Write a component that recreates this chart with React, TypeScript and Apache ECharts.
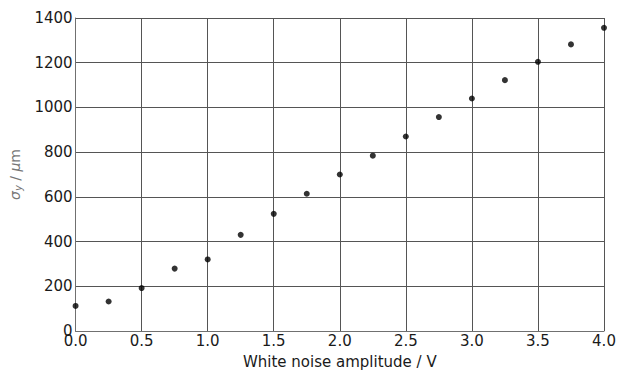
import React, { useEffect, useRef } from "react";
import * as echarts from "echarts";

const amplitudes = [0, 0.25, 0.5, 0.75, 1.0, 1.25, 1.5, 1.75, 2.0, 2.25, 2.5, 2.75, 3.0, 3.25, 3.5, 3.75, 4.0];
const sigmaY = [112, 132, 192, 279, 320, 430, 524, 614, 700, 784, 870, 957, 1040, 1122, 1204, 1282, 1356];

const xTicks = ["0.0", "0.5", "1.0", "1.5", "2.0", "2.5", "3.0", "3.5", "4.0"];
const yTicks = ["0", "200", "400", "600", "800", "1000", "1200", "1400"];

export default function App() {
  const ref = useRef<HTMLDivElement>(null);
  useEffect(() => {
    if (!ref.current) return;
    const chart = echarts.init(ref.current, undefined, { renderer: "svg" });
    const font = "DejaVu Sans";
    chart.setOption({
      animation: false,
      backgroundColor: "#ffffff",
      grid: { left: 73, right: 18, top: 18, bottom: 40 },
      xAxis: {
        type: "value",
        min: 0,
        max: 4,
        interval: 0.5,
        name: "White noise amplitude / V",
        nameLocation: "middle",
        nameGap: 23,
        nameTextStyle: { fontFamily: font, fontSize: 15, color: "#1a1a1a" },
        axisLine: { show: true, lineStyle: { color: "#707070", width: 1 } },
        axisTick: { show: false },
        axisLabel: {
          fontFamily: font,
          fontSize: 15,
          color: "#1a1a1a",
          margin: 2,
          formatter: (v: number) => {
            const i = Math.round(v / 0.5);
            return xTicks[i] ?? v.toFixed(1);
          },
        },
        splitLine: { show: true, lineStyle: { color: "#555", width: 1 } },
      },
      yAxis: {
        type: "value",
        min: 0,
        max: 1400,
        interval: 200,
        name: "{s|σ}{sub|y}{n| / }{s|μ}{n|m}",
        nameLocation: "middle",
        nameGap: 51,
        nameTextStyle: {
          fontFamily: font,
          fontSize: 14,
          color: "#777",
          rich: {
            s: { fontFamily: font, fontSize: 14, fontStyle: "italic", color: "#777" },
            sub: { fontFamily: font, fontSize: 10, fontStyle: "italic", color: "#777", verticalAlign: "bottom", padding: [7, 0, 0, 0] },
            n: { fontFamily: font, fontSize: 14, color: "#777" },
          },
        },
        axisLine: { show: true, lineStyle: { color: "#707070", width: 1 } },
        axisTick: { show: false },
        axisLabel: {
          fontFamily: font,
          fontSize: 15,
          color: "#1a1a1a",
          margin: 3,
          formatter: (v: number) => {
            const i = Math.round(v / 200);
            return yTicks[i] ?? String(v);
          },
        },
        splitLine: { show: true, lineStyle: { color: "#555", width: 1 } },
      },
      series: [
        {
          type: "scatter",
          data: amplitudes.map((a, i) => [a, sigmaY[i]]),
          symbol: "circle",
          symbolSize: 6,
          itemStyle: { color: "#000" },
          clip: true,
        },
      ],
    });
    return () => chart.dispose();
  }, []);
  return (
    <div
      ref={ref}
      style={{ position: "fixed", left: 0, top: 0, width: 622, height: 374 }}
    />
  );
}
